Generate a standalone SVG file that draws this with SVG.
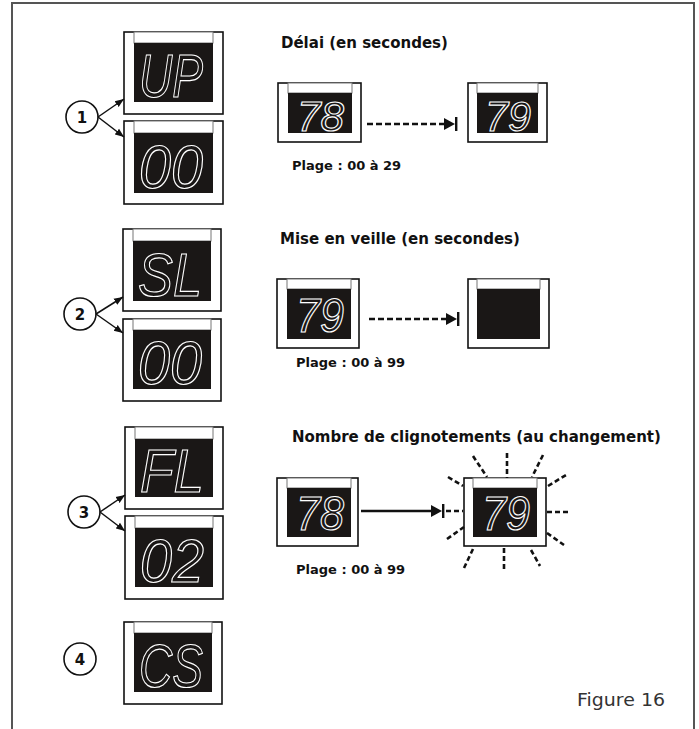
<svg xmlns="http://www.w3.org/2000/svg" width="699" height="729" viewBox="0 0 699 729">
<style>
.frame{fill:#fff;stroke:#111;stroke-width:1.6}
.strip{fill:#fff;stroke:#777;stroke-width:1}
.scr{fill:#1a1716}
.seg{font-family:"Liberation Sans",Arial,sans-serif;font-style:italic;fill:#1a1716;stroke:#fff;stroke-width:1.2}
.title{font-family:"DejaVu Sans",sans-serif;font-weight:bold;font-size:15px;fill:#111}
.plage{font-family:"DejaVu Sans",sans-serif;font-weight:bold;font-size:13px;fill:#111}
.num{font-family:"DejaVu Sans",sans-serif;font-weight:bold;font-size:15px;fill:#111;text-anchor:middle}
.circ{fill:#fff;stroke:#111;stroke-width:1.6}
.ptr{stroke:#111;stroke-width:1.5;fill:none}
.dash{stroke:#111;stroke-width:2.5;stroke-dasharray:6 3;fill:none}
.solid{stroke:#111;stroke-width:2.5;fill:none}
.head{fill:#111;stroke:none}
.ray{stroke:#111;stroke-width:2.6;stroke-dasharray:5 3;fill:none}
</style>
<defs>
<marker id="ah" viewBox="0 0 10 10" refX="10" refY="5" markerWidth="9" markerHeight="9" markerUnits="userSpaceOnUse" orient="auto">
<path d="M0,1 L10,5 L0,9 z" fill="#111"/>
</marker>
</defs>
<rect x="0" y="0" width="699" height="729" fill="#fff"/>
<path d="M12,729 V3 H694 V729" fill="none" stroke="#555" stroke-width="2"/>

<!-- left column displays -->
<g id="d1a"><rect class="frame" x="124" y="32" width="99" height="82"/><rect class="strip" x="134" y="32" width="79" height="11"/><rect class="scr" x="134" y="43" width="79" height="59"/><text class="seg" x="139" y="97" font-size="62" textLength="64" lengthAdjust="spacingAndGlyphs">UP</text></g>
<g id="d1b"><rect class="frame" x="124" y="121" width="99" height="83"/><rect class="strip" x="134" y="121" width="79" height="12"/><rect class="scr" x="134" y="133" width="79" height="60"/><text class="seg" x="139" y="188" font-size="62" textLength="64" lengthAdjust="spacingAndGlyphs">00</text></g>
<g id="d2a"><rect class="frame" x="123" y="229" width="98" height="82"/><rect class="strip" x="133" y="229" width="78" height="12"/><rect class="scr" x="133" y="241" width="78" height="60"/><text class="seg" x="138" y="296" font-size="62" textLength="64" lengthAdjust="spacingAndGlyphs">SL</text></g>
<g id="d2b"><rect class="frame" x="123" y="319" width="98" height="82"/><rect class="strip" x="133" y="319" width="78" height="11"/><rect class="scr" x="133" y="330" width="78" height="59"/><text class="seg" x="138" y="384" font-size="62" textLength="64" lengthAdjust="spacingAndGlyphs">00</text></g>
<g id="d3a"><rect class="frame" x="125" y="427" width="98" height="82"/><rect class="strip" x="135" y="427" width="78" height="12"/><rect class="scr" x="135" y="439" width="78" height="58"/><text class="seg" x="140" y="492" font-size="62" textLength="64" lengthAdjust="spacingAndGlyphs">FL</text></g>
<g id="d3b"><rect class="frame" x="125" y="516" width="98" height="83"/><rect class="strip" x="135" y="516" width="78" height="12"/><rect class="scr" x="135" y="528" width="78" height="59"/><text class="seg" x="140" y="582" font-size="62" textLength="64" lengthAdjust="spacingAndGlyphs">02</text></g>
<g id="d4"><rect class="frame" x="124" y="622" width="98" height="82"/><rect class="strip" x="134" y="622" width="78" height="11"/><rect class="scr" x="134" y="633" width="78" height="59"/><text class="seg" x="139" y="687" font-size="62" textLength="64" lengthAdjust="spacingAndGlyphs">CS</text></g>

<!-- numbered circles -->
<g id="c1"><circle class="circ" cx="82" cy="117" r="16"/><text class="num" x="82" y="122.5">1</text></g>
<g id="c2"><circle class="circ" cx="80" cy="314" r="16"/><text class="num" x="80" y="319.5">2</text></g>
<g id="c3"><circle class="circ" cx="84" cy="512" r="16"/><text class="num" x="84" y="517.5">3</text></g>
<g id="c4"><circle class="circ" cx="80" cy="659" r="16"/><text class="num" x="80" y="664.5">4</text></g>

<!-- section titles -->
<g id="t1"><text class="title" x="281" y="48">Délai (en secondes)</text></g>
<g id="t2"><text class="title" x="280" y="244">Mise en veille (en secondes)</text></g>
<g id="t3"><text class="title" x="292" y="442">Nombre de clignotements (au changement)</text></g>

<!-- section 1 -->
<g id="s1a"><rect class="frame" x="278" y="83" width="83" height="59"/><rect class="strip" x="288" y="83" width="64" height="10"/><rect class="scr" x="288" y="93" width="64" height="40"/><text class="seg" x="297" y="131" font-size="43" textLength="47" lengthAdjust="spacingAndGlyphs">78</text></g>
<g id="s1b"><rect class="frame" x="468" y="83" width="79" height="59"/><rect class="strip" x="477" y="83" width="61" height="10"/><rect class="scr" x="477" y="93" width="61" height="40"/><text class="seg" x="485" y="131" font-size="43" textLength="46" lengthAdjust="spacingAndGlyphs">79</text></g>
<g id="p1"><text class="plage" x="292" y="170">Plage : 00 à 29</text></g>

<!-- section 2 -->
<g id="s2a"><rect class="frame" x="277" y="279" width="82" height="69"/><rect class="strip" x="287" y="279" width="64" height="10"/><rect class="scr" x="287" y="289" width="64" height="50"/><text class="seg" x="296" y="332" font-size="49" textLength="48" lengthAdjust="spacingAndGlyphs">79</text></g>
<g id="s2b"><rect class="frame" x="468" y="279" width="81" height="69"/><rect class="strip" x="477" y="279" width="63" height="10"/><rect class="scr" x="477" y="289" width="63" height="50"/></g>
<g id="p2"><text class="plage" x="296" y="367">Plage : 00 à 99</text></g>

<!-- section 3 -->
<g id="s3a"><rect class="frame" x="277" y="478" width="81" height="68"/><rect class="strip" x="287" y="478" width="64" height="10"/><rect class="scr" x="287" y="488" width="64" height="49"/><text class="seg" x="296" y="530" font-size="49" textLength="48" lengthAdjust="spacingAndGlyphs">78</text></g>
<g id="s3b"><rect class="frame" x="464" y="478" width="82" height="68"/><rect class="strip" x="473" y="478" width="64" height="10"/><rect class="scr" x="473" y="488" width="64" height="49"/><text class="seg" x="482" y="530" font-size="49" textLength="48" lengthAdjust="spacingAndGlyphs">79</text></g>
<g id="p3"><text class="plage" x="296" y="574">Plage : 00 à 99</text></g>

<!-- connectors -->
<g id="connectors">
<line class="ptr" x1="98" y1="117" x2="124" y2="99" marker-end="url(#ah)"/>
<line class="ptr" x1="98" y1="117" x2="124" y2="137" marker-end="url(#ah)"/>
<line class="ptr" x1="96" y1="314" x2="123" y2="297" marker-end="url(#ah)"/>
<line class="ptr" x1="96" y1="314" x2="123" y2="333" marker-end="url(#ah)"/>
<line class="ptr" x1="100" y1="512" x2="125" y2="495" marker-end="url(#ah)"/>
<line class="ptr" x1="100" y1="512" x2="125" y2="531" marker-end="url(#ah)"/>
<line class="dash" x1="367" y1="124" x2="445" y2="124"/>
<path class="head" d="M444,118 L455,124 L444,130 Z"/><rect class="head" x="455" y="117" width="2.4" height="14"/>
<line class="dash" x1="369" y1="319" x2="447" y2="319"/>
<path class="head" d="M446,313 L457,319 L446,325 Z"/><rect class="head" x="457" y="312" width="2.4" height="14"/>
<line class="solid" x1="361" y1="511" x2="432" y2="511"/>
<path class="head" d="M431,505 L442,511 L431,517 Z"/><rect class="head" x="442" y="504" width="2.4" height="14"/>
</g>

<!-- flashing rays -->
<g id="rays">
<line class="ray" x1="507" y1="453" x2="507" y2="478"/>
<line class="ray" x1="504" y1="548" x2="504" y2="569"/>
<line class="ray" x1="547" y1="512" x2="571" y2="512"/>
<line class="ray" x1="446" y1="511" x2="463" y2="511"/>
<line class="ray" x1="473" y1="456" x2="487" y2="477"/>
<line class="ray" x1="543" y1="455" x2="532" y2="477"/>
<line class="ray" x1="448" y1="477" x2="463" y2="486"/>
<line class="ray" x1="548" y1="486" x2="566" y2="475"/>
<line class="ray" x1="447" y1="539" x2="464" y2="527"/>
<line class="ray" x1="547" y1="533" x2="564" y2="545"/>
<line class="ray" x1="473" y1="549" x2="464" y2="568"/>
<line class="ray" x1="531" y1="550" x2="540" y2="566"/>
</g>

<g id="caption"><text x="577" y="706" font-family="DejaVu Sans, sans-serif" font-size="18" fill="#333" textLength="88" lengthAdjust="spacingAndGlyphs">Figure 16</text></g>
</svg>
